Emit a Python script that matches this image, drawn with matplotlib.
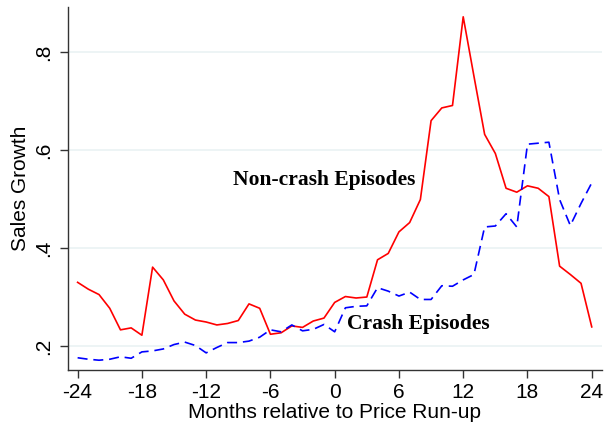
import numpy as np
import matplotlib.pyplot as plt

# months relative to price run-up
months = np.arange(-24, 25)

# sales growth, episodes without a crash
noncrash = [0.330, 0.316, 0.305, 0.277, 0.233, 0.237, 0.222, 0.361, 0.335, 0.292,
            0.265, 0.253, 0.249, 0.243, 0.246, 0.252, 0.286, 0.277, 0.224, 0.227,
            0.241, 0.238, 0.251, 0.257, 0.289, 0.301, 0.298, 0.300, 0.376, 0.389,
            0.433, 0.452, 0.499, 0.660, 0.686, 0.691, 0.872, 0.751, 0.632, 0.593,
            0.522, 0.514, 0.527, 0.522, 0.505, 0.363, 0.346, 0.328, 0.239]

# sales growth, crash episodes
crash = [0.176, 0.173, 0.171, 0.173, 0.178, 0.175, 0.188, 0.190, 0.194, 0.203,
         0.208, 0.201, 0.186, 0.197, 0.207, 0.207, 0.210, 0.218, 0.233, 0.229,
         0.243, 0.231, 0.234, 0.244, 0.229, 0.278, 0.281, 0.282, 0.319, 0.312,
         0.302, 0.310, 0.295, 0.295, 0.323, 0.322, 0.335, 0.346, 0.443, 0.445,
         0.470, 0.443, 0.612, 0.614, 0.616, 0.499, 0.446, 0.491, 0.533]

xticks = [-24, -18, -12, -6, 0, 6, 12, 18, 24]
yticks = [0.2, 0.4, 0.6, 0.8]
ytick_labels = ['.2', '.4', '.6', '.8']

plt.rcParams['font.family'] = ['Liberation Sans', 'DejaVu Sans']

fig = plt.figure(figsize=(6.08, 4.30), dpi=100)
ax = fig.add_axes([0.1118, 0.1395, 0.8782, 0.8442])

ax.plot(months, noncrash, color='#ff0000', lw=1.2)
ax.plot(months, crash, color='#0000ff', lw=1.2, dashes=(6, 3.5))

ax.set_xlim(-24.9, 24.95)
ax.set_ylim(0.151, 0.892)

ax.set_xticks(xticks)
ax.set_xticklabels([str(t) for t in xticks], fontsize=15)
ax.set_yticks(yticks)
ax.set_yticklabels(ytick_labels, fontsize=15, rotation=90, va='center')
ax.yaxis.grid(True, color='#eaf2f3', lw=1.2)
ax.set_axisbelow(True)

for side in ['top', 'right']:
    ax.spines[side].set_visible(False)
for side in ['left', 'bottom']:
    ax.spines[side].set_color('#333333')
    ax.spines[side].set_linewidth(1.0)
ax.tick_params(length=6, width=1.0, color='#333333')
ax.tick_params(axis='x', pad=3)
ax.tick_params(axis='y', pad=5)

ax.set_xlabel('Months relative to Price Run-up', fontsize=15, labelpad=1)
ax.set_ylabel('Sales Growth', fontsize=15, labelpad=3)

ax.text(-1.0, 0.539, 'Non-crash Episodes', family='Liberation Serif',
        fontweight='bold', fontsize=15.5, ha='center', va='center')
ax.text(7.8, 0.245, 'Crash Episodes', family='Liberation Serif',
        fontweight='bold', fontsize=15.5, ha='center', va='center')

fig.savefig('out.png', dpi=100)
